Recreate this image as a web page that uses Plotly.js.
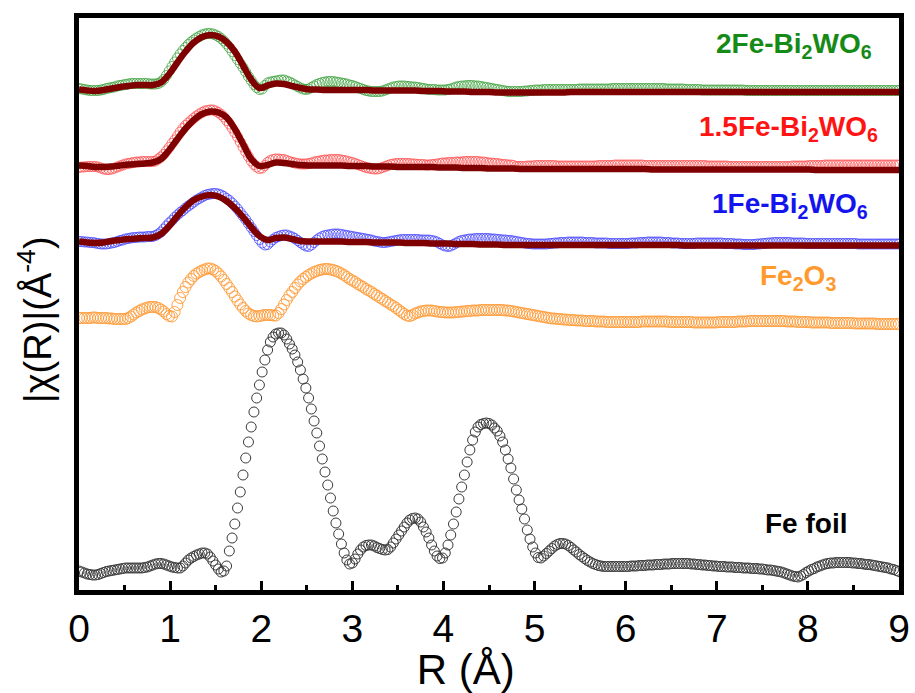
<!DOCTYPE html>
<html><head><meta charset="utf-8">
<script src="https://cdn.plot.ly/plotly-3.0.1.min.js"></script>
<style>html,body{margin:0;padding:0;background:#fff}#chart{width:915px;height:693px}</style>
</head><body><div id="chart"></div>
<script>
// R grid (Å): data points every 0.03 Å, fit curves every 0.09 Å, both from 0 to 9
const R_START = 0, R_STEP = 0.03, FIT_STEP = 0.09;
const xTicks = [0,1,2,3,4,5,6,7,8,9];
const seriesNames = ['Fe foil', 'Fe2O3', '1Fe-Bi2WO6', '1.5Fe-Bi2WO6', '2Fe-Bi2WO6'];

// |chi(R)| (arbitrary units, vertically stacked as drawn)
const feFoil = [
5.2,5.0,4.8,4.6,4.5,4.4,4.4,4.5,4.7,4.9,
5.1,5.2,5.3,5.4,5.5,5.6,5.7,5.8,5.8,5.8,
5.8,5.8,5.8,5.8,5.9,6.0,6.2,6.4,6.6,6.7,
6.7,6.6,6.4,6.2,6.0,5.9,5.8,5.8,6.2,6.8,
7.4,7.8,8.1,8.4,8.6,8.8,8.8,8.6,8.0,7.2,
6.4,5.6,5.0,5.2,6.2,9.2,11.8,14.6,17.8,21.0,
24.4,27.8,31.0,34.0,37.0,39.8,42.4,45.0,47.4,49.4,
51.0,52.0,52.6,52.8,52.8,52.4,51.6,50.6,49.6,48.4,
47.0,45.4,43.6,41.8,39.8,37.6,35.2,32.8,30.2,27.6,
25.0,22.4,19.8,17.2,14.8,12.6,10.6,8.8,7.4,6.6,
6.8,7.6,8.6,9.4,10.0,10.3,10.4,10.4,10.2,9.9,
9.7,9.5,9.4,9.5,10.0,10.8,11.6,12.4,13.2,14.0,
14.8,15.4,15.7,15.8,15.6,15.0,14.0,13.0,11.8,10.4,
9.2,8.2,7.7,7.8,8.8,10.4,12.4,14.6,17.0,19.6,
22.0,24.4,27.0,29.4,31.4,33.0,34.0,34.5,34.7,34.8,
34.7,34.4,33.8,33.2,32.2,31.0,29.4,27.6,25.8,23.6,
21.4,19.4,17.6,15.6,13.4,11.6,10.0,8.8,7.9,7.8,
8.2,8.7,9.2,9.7,10.2,10.5,10.7,10.7,10.6,10.3,
9.9,9.4,9.0,8.5,8.1,7.7,7.3,7.0,6.7,6.5,
6.3,6.2,6.1,6.1,6.1,6.1,6.1,6.1,6.1,6.1,
6.1,6.1,6.2,6.2,6.2,6.3,6.3,6.3,6.4,6.4,
6.4,6.5,6.5,6.5,6.6,6.6,6.6,6.7,6.7,6.7,
6.7,6.7,6.7,6.7,6.6,6.6,6.5,6.5,6.4,6.4,
6.3,6.3,6.2,6.2,6.1,6.1,6.1,6.0,6.0,6.0,
5.9,5.9,5.9,5.8,5.8,5.8,5.7,5.7,5.7,5.6,
5.6,5.5,5.4,5.4,5.3,5.2,5.1,5.0,4.8,4.6,
4.4,4.2,4.1,4.0,4.2,4.5,4.9,5.2,5.5,5.7,
6.0,6.2,6.4,6.6,6.7,6.8,6.8,6.9,6.9,6.9,
6.9,6.9,6.9,6.8,6.8,6.7,6.7,6.6,6.5,6.5,
6.4,6.3,6.2,6.1,6.0,5.9,5.8,5.6,5.5,5.3,
5.1];

const fe2o3 = [
55.8,55.8,55.8,55.8,55.8,55.9,55.9,55.8,55.8,55.8,
55.8,55.7,55.7,55.6,55.6,55.6,55.6,55.6,55.8,56.1,
56.5,56.9,57.2,57.5,57.7,57.9,58.0,58.0,58.0,57.8,
57.5,57.1,56.6,56.2,56.1,57.0,58.4,59.8,61.0,62.0,
62.9,63.6,64.2,64.7,65.0,65.3,65.5,65.7,65.7,65.5,
65.2,64.7,64.1,63.4,62.6,61.8,61.0,60.1,59.3,58.5,
57.8,57.2,56.7,56.4,56.2,56.1,56.2,56.3,56.4,56.4,
56.4,56.3,56.3,56.8,57.6,58.5,59.4,60.3,61.0,61.8,
62.5,63.1,63.6,64.0,64.4,64.7,65.0,65.2,65.4,65.5,
65.6,65.6,65.5,65.4,65.2,65.0,64.7,64.4,64.0,63.6,
63.3,63.0,62.6,62.3,62.0,61.6,61.3,61.0,60.6,60.3,
59.9,59.6,59.2,58.9,58.5,58.2,57.8,57.4,57.0,56.6,
56.3,56.2,56.4,56.7,56.9,57.1,57.2,57.3,57.3,57.3,
57.2,57.1,57.0,57.0,56.9,56.9,56.9,56.9,57.0,57.0,
57.1,57.1,57.2,57.2,57.3,57.3,57.3,57.4,57.4,57.4,
57.4,57.4,57.4,57.4,57.4,57.4,57.3,57.3,57.2,57.1,
57.0,56.9,56.8,56.7,56.6,56.5,56.4,56.3,56.2,56.1,
56.0,55.9,55.8,55.7,55.7,55.6,55.6,55.5,55.5,55.4,
55.4,55.4,55.3,55.3,55.3,55.2,55.2,55.2,55.2,55.1,
55.1,55.1,55.1,55.0,55.0,55.0,55.0,55.0,55.0,55.0,
55.0,55.0,55.0,55.0,55.0,55.0,55.1,55.1,55.1,55.1,
55.1,55.1,55.1,55.1,55.1,55.1,55.0,55.0,55.0,55.0,
55.0,55.0,55.0,55.0,55.0,54.9,54.9,54.9,54.9,54.9,
54.9,54.9,54.9,54.9,55.0,55.0,55.0,55.0,55.0,55.0,
55.0,55.1,55.1,55.1,55.1,55.2,55.2,55.2,55.2,55.2,
55.2,55.2,55.2,55.2,55.2,55.2,55.2,55.2,55.2,55.1,
55.1,55.1,55.1,55.0,55.0,55.0,55.0,55.0,54.9,54.9,
54.9,54.9,54.9,54.9,54.9,54.8,54.8,54.8,54.8,54.8,
54.8,54.8,54.8,54.8,54.7,54.7,54.7,54.7,54.7,54.7,
54.7,54.7,54.6,54.6,54.6,54.6,54.6,54.6,54.6,54.6,
54.6];

const fe1 = [
71.1,71.1,71.0,71.0,70.9,70.9,70.8,70.7,70.6,70.6,
70.6,70.7,70.8,70.9,71.1,71.3,71.4,71.6,71.7,71.8,
71.9,71.9,72.0,72.0,72.0,72.1,72.1,72.1,72.3,72.6,
73.0,73.6,74.2,74.8,75.3,75.9,76.4,76.9,77.3,77.8,
78.2,78.6,79.0,79.4,79.7,80.0,80.3,80.5,80.6,80.7,
80.7,80.6,80.4,80.1,79.7,79.3,78.8,78.2,77.6,76.9,
76.2,75.5,74.7,73.9,73.1,72.3,71.5,70.8,70.4,70.5,
71.0,71.5,71.9,72.1,72.3,72.4,72.4,72.2,72.0,71.7,
71.3,70.9,70.5,70.2,70.1,70.4,70.9,71.4,71.8,72.1,
72.3,72.4,72.5,72.6,72.6,72.6,72.5,72.4,72.3,72.2,
72.1,72.0,71.9,71.8,71.7,71.6,71.5,71.4,71.2,71.1,
71.0,70.9,70.9,71.0,71.1,71.2,71.3,71.4,71.5,71.5,
71.5,71.5,71.5,71.5,71.5,71.4,71.4,71.4,71.4,71.3,
71.2,71.0,70.7,70.4,70.2,70.1,70.2,70.5,70.8,71.1,
71.3,71.4,71.5,71.6,71.6,71.7,71.7,71.7,71.7,71.7,
71.7,71.6,71.6,71.5,71.5,71.4,71.4,71.3,71.3,71.2,
71.1,71.0,70.9,70.8,70.7,70.7,70.6,70.6,70.6,70.6,
70.6,70.6,70.7,70.7,70.8,70.8,70.9,70.9,70.9,71.0,
71.0,71.0,71.0,71.0,71.0,70.9,70.9,70.9,70.9,70.8,
70.8,70.8,70.8,70.8,70.7,70.7,70.7,70.7,70.7,70.7,
70.7,70.7,70.8,70.8,70.8,70.9,70.9,70.9,71.0,71.0,
71.0,71.0,71.0,71.0,70.9,70.9,70.9,70.8,70.8,70.8,
70.7,70.7,70.7,70.7,70.7,70.7,70.8,70.8,70.8,70.8,
70.8,70.8,70.8,70.8,70.8,70.8,70.7,70.7,70.7,70.7,
70.6,70.6,70.6,70.5,70.5,70.5,70.5,70.5,70.6,70.6,
70.7,70.7,70.8,70.8,70.9,70.9,70.9,70.9,70.9,70.9,
70.9,70.8,70.8,70.8,70.8,70.8,70.7,70.7,70.7,70.7,
70.7,70.7,70.7,70.7,70.7,70.7,70.7,70.7,70.7,70.7,
70.7,70.7,70.7,70.7,70.7,70.6,70.6,70.6,70.6,70.6,
70.6,70.6,70.6,70.6,70.6,70.6,70.6,70.6,70.6,70.6,
70.6];

const fe15 = [
85.9,86.0,86.0,86.1,86.1,86.1,86.1,86.0,85.8,85.6,
85.5,85.5,85.6,85.8,86.0,86.2,86.4,86.6,86.7,86.8,
86.9,87.0,87.0,87.1,87.1,87.1,87.1,87.1,87.2,87.6,
88.0,88.5,89.2,89.9,90.7,91.4,92.2,93.0,93.7,94.3,
94.8,95.3,95.8,96.2,96.6,96.9,97.2,97.3,97.4,97.4,
97.2,96.9,96.5,96.0,95.3,94.6,93.8,92.9,92.0,91.0,
90.0,89.0,88.1,87.2,86.5,86.0,85.7,85.8,86.3,86.9,
87.3,87.5,87.6,87.6,87.5,87.5,87.3,87.1,86.9,86.8,
86.7,86.6,86.6,86.6,86.7,86.8,87.0,87.1,87.2,87.3,
87.4,87.4,87.5,87.5,87.5,87.5,87.4,87.3,87.2,87.0,
86.9,86.7,86.5,86.3,86.1,85.9,85.8,85.7,85.6,85.6,
85.7,85.9,86.1,86.3,86.5,86.6,86.7,86.7,86.7,86.7,
86.7,86.7,86.6,86.6,86.5,86.5,86.5,86.4,86.4,86.5,
86.5,86.6,86.7,86.8,86.8,86.9,86.9,86.9,87.0,87.0,
87.0,87.1,87.1,87.1,87.1,87.1,87.1,87.0,87.0,86.9,
86.8,86.8,86.7,86.7,86.6,86.5,86.5,86.4,86.4,86.3,
86.1,86.1,86.1,86.1,86.2,86.2,86.2,86.3,86.3,86.3,
86.3,86.3,86.3,86.3,86.3,86.2,86.2,86.2,86.2,86.2,
86.2,86.2,86.2,86.2,86.2,86.2,86.2,86.2,86.2,86.2,
86.3,86.3,86.3,86.3,86.3,86.3,86.4,86.4,86.4,86.4,
86.4,86.4,86.4,86.4,86.4,86.4,86.4,86.3,86.3,86.3,
86.3,86.3,86.3,86.3,86.3,86.3,86.3,86.3,86.3,86.3,
86.3,86.3,86.3,86.3,86.3,86.3,86.3,86.3,86.3,86.3,
86.2,86.2,86.2,86.2,86.2,86.2,86.2,86.2,86.1,86.1,
86.1,86.1,86.1,86.1,86.1,86.1,86.1,86.1,86.1,86.1,
86.1,86.1,86.1,86.1,86.1,86.1,86.1,86.1,86.1,86.1,
86.1,86.2,86.2,86.2,86.2,86.2,86.2,86.3,86.3,86.3,
86.3,86.3,86.3,86.4,86.4,86.4,86.4,86.4,86.4,86.4,
86.4,86.4,86.4,86.4,86.4,86.4,86.4,86.4,86.4,86.4,
86.4,86.4,86.4,86.4,86.4,86.4,86.4,86.4,86.4,86.4,
86.4];

const fe2 = [
101.7,101.6,101.5,101.4,101.3,101.3,101.3,101.3,101.4,101.5,
101.7,101.8,101.9,102.0,102.2,102.3,102.4,102.5,102.6,102.7,
102.7,102.7,102.7,102.7,102.7,102.7,102.6,102.6,102.6,102.7,
103.0,103.5,104.3,105.2,106.1,107.0,107.8,108.6,109.3,109.9,
110.5,111.0,111.4,111.8,112.1,112.4,112.6,112.7,112.7,112.6,
112.4,112.1,111.7,111.2,110.6,109.9,109.1,108.3,107.5,106.7,
105.9,105.0,104.1,103.3,102.5,101.9,101.5,101.6,102.3,102.8,
103.0,103.1,103.2,103.3,103.4,103.4,103.2,103.0,102.7,102.4,
102.1,101.8,101.6,101.5,101.6,101.9,102.2,102.5,102.7,102.9,
103.0,103.1,103.1,103.1,103.0,102.9,102.8,102.7,102.6,102.4,
102.3,102.1,101.9,101.7,101.5,101.3,101.2,101.1,101.1,101.1,
101.1,101.2,101.4,101.6,101.8,102.0,102.1,102.2,102.2,102.2,
102.1,102.1,102.0,102.0,101.9,101.8,101.7,101.6,101.5,101.5,
101.5,101.4,101.4,101.4,101.4,101.5,101.6,101.8,102.0,102.1,
102.2,102.2,102.3,102.3,102.3,102.2,102.2,102.1,102.0,101.9,
101.8,101.7,101.6,101.5,101.4,101.3,101.2,101.1,101.1,101.1,
101.1,101.1,101.1,101.2,101.2,101.3,101.3,101.4,101.4,101.4,
101.5,101.5,101.5,101.5,101.5,101.5,101.5,101.5,101.5,101.5,
101.5,101.5,101.5,101.6,101.6,101.6,101.6,101.6,101.6,101.6,
101.6,101.6,101.6,101.6,101.6,101.7,101.7,101.7,101.7,101.7,
101.7,101.7,101.7,101.7,101.7,101.7,101.7,101.7,101.7,101.7,
101.7,101.7,101.7,101.7,101.7,101.6,101.6,101.6,101.6,101.6,
101.6,101.6,101.5,101.5,101.5,101.5,101.5,101.5,101.4,101.4,
101.4,101.4,101.4,101.4,101.4,101.4,101.4,101.4,101.4,101.4,
101.4,101.4,101.4,101.4,101.3,101.3,101.3,101.3,101.3,101.3,
101.3,101.3,101.3,101.3,101.3,101.3,101.3,101.3,101.3,101.3,
101.3,101.3,101.3,101.3,101.3,101.3,101.3,101.3,101.3,101.3,
101.3,101.3,101.3,101.3,101.3,101.3,101.3,101.3,101.3,101.3,
101.3,101.3,101.3,101.3,101.3,101.3,101.3,101.3,101.3,101.3,
101.3,101.3,101.3,101.3,101.3,101.3,101.3,101.3,101.3,101.3,
101.3];

// Fit curves (every 0.09 Å)
const fe1Fit = [
71.1,70.9,70.8,70.9,71.2,71.4,71.6,71.7,71.8,71.9,
72.6,74.2,76.2,78.0,79.4,80.1,80.4,80.1,79.2,77.8,
76.0,74.0,72.2,71.4,71.8,71.9,71.6,71.2,71.1,71.1,
71.1,71.1,71.1,71.0,71.0,71.0,70.9,70.9,70.9,70.9,
70.8,70.8,70.8,70.7,70.7,70.7,70.6,70.6,70.6,70.5,
70.5,70.5,70.4,70.4,70.4,70.4,70.4,70.4,70.4,70.4,
70.4,70.4,70.4,70.4,70.4,70.4,70.4,70.4,70.4,70.4,
70.4,70.4,70.4,70.4,70.3,70.3,70.3,70.3,70.3,70.3,
70.3,70.3,70.3,70.3,70.3,70.3,70.3,70.3,70.3,70.3,
70.3,70.3,70.3,70.3,70.3,70.3,70.3,70.3,70.3,70.3,
70.3];

const fe15Fit = [
86.3,86.2,86.0,86.0,86.1,86.3,86.5,86.6,86.7,86.9,
87.6,89.4,91.6,93.7,95.4,96.6,97.1,96.9,95.9,93.6,
90.6,87.6,86.2,86.4,86.9,86.8,86.6,86.4,86.3,86.3,
86.3,86.3,86.3,86.2,86.2,86.2,86.1,86.1,86.1,86.0,
86.0,86.0,86.0,86.0,85.9,85.9,85.9,85.8,85.8,85.8,
85.7,85.7,85.7,85.7,85.6,85.6,85.6,85.6,85.6,85.6,
85.6,85.6,85.6,85.6,85.6,85.6,85.6,85.6,85.6,85.6,
85.5,85.5,85.5,85.5,85.5,85.5,85.5,85.5,85.5,85.5,
85.5,85.5,85.5,85.5,85.5,85.5,85.5,85.5,85.5,85.5,
85.4,85.4,85.4,85.4,85.4,85.4,85.4,85.4,85.4,85.4,
85.4];

const fe2Fit = [
101.5,101.3,101.2,101.4,101.7,102.0,102.2,102.4,102.4,102.4,
102.9,104.6,106.9,109.1,110.9,112.0,112.4,112.1,111.0,109.1,
106.3,103.5,101.8,102.3,102.7,102.6,102.2,101.8,101.5,101.5,
101.4,101.4,101.4,101.4,101.4,101.4,101.3,101.3,101.3,101.3,
101.3,101.3,101.2,101.2,101.2,101.1,101.1,101.1,101.0,101.0,
101.0,100.9,100.9,100.9,100.9,100.9,100.9,100.9,100.9,100.9,
101.0,101.0,101.0,101.0,101.0,101.0,101.0,101.0,101.0,101.0,
101.0,101.0,101.0,101.0,101.0,101.0,101.0,101.0,101.0,101.0,
101.0,101.0,101.0,101.0,101.0,101.0,101.0,101.0,101.0,101.0,
101.0,101.0,101.0,101.0,101.0,101.0,101.0,101.0,101.0,101.0,
101.0];

const dataColors = ['#3a3a3a', '#ff9933', '#3535ff', '#ff4040', '#2e9a2e'];
const labelColors = ['#000000', '#ff9a2e', '#1414ee', '#ff1414', '#168a16'];
const FIT_COLOR = '#7f0000';

function dataTrace(y, i, size, lw) {
  return {type:'scatter', mode:'markers', name:seriesNames[i], x0:R_START, dx:R_STEP, y:y,
    marker:{symbol:'circle-open', size:size, color:dataColors[i], line:{width:lw}}, hoverinfo:'skip'};
}
function fitTrace(y, name) {
  return {type:'scatter', mode:'lines', name:name + ' fit', x0:R_START, dx:FIT_STEP, y:y,
    line:{color:FIT_COLOR, width:6.5, shape:'spline', smoothing:1}, hoverinfo:'skip'};
}

const traces = [
  dataTrace(feFoil, 0, 10, 1),
  dataTrace(fe2o3, 1, 11, 0.9),
  dataTrace(fe1, 2, 10, 0.7),
  fitTrace(fe1Fit, seriesNames[2]),
  dataTrace(fe15, 3, 10, 0.7),
  fitTrace(fe15Fit, seriesNames[3]),
  dataTrace(fe2, 4, 10, 0.7),
  fitTrace(fe2Fit, seriesNames[4])
];

const NARROW = '"Liberation Sans Narrow", "Arial Narrow", "Liberation Sans", Arial, sans-serif';
const BOLD = '"Liberation Sans", Arial, sans-serif';
const labelText = ['Fe foil', 'Fe<sub>2</sub>O<sub>3</sub>', '1Fe-Bi<sub>2</sub>WO<sub>6</sub>',
                   '1.5Fe-Bi<sub>2</sub>WO<sub>6</sub>', '2Fe-Bi<sub>2</sub>WO<sub>6</sub>'];
const labelPos = [[7.98, 14.8], [7.89, 64.0], [7.80, 78.4], [7.79, 93.8], [7.85, 110.3]];

const layout = {
  width:915, height:693,
  margin:{l:79, r:16, t:18, b:103},
  paper_bgcolor:'#ffffff', plot_bgcolor:'#ffffff',
  showlegend:false,
  font:{family:BOLD, color:'#000'},
  xaxis:{
    range:[0, 9], tickmode:'array', tickvals:xTicks, ticktext:xTicks.map(String),
    ticks:'inside', ticklen:9, tickwidth:3, tickcolor:'#000',
    minor:{ticks:'inside', dtick:0.5, tick0:0, ticklen:5, tickwidth:3, tickcolor:'#000'},
    showline:true, linewidth:5, linecolor:'#000', mirror:true,
    showgrid:false, zeroline:false,
    tickfont:{family:NARROW, size:39, color:'#000'},
    title:{text:'R (Å)&nbsp;&nbsp;&nbsp;&nbsp;', font:{family:NARROW, size:42, color:'#000'}, standoff:4}
  },
  yaxis:{
    range:[1.4, 115.8], showticklabels:false, ticks:'',
    showline:true, linewidth:5, linecolor:'#000', mirror:true,
    showgrid:false, zeroline:false,
    title:{text:'|χ(R)|(Å<sup>-4</sup>)&nbsp;&nbsp;&nbsp;', font:{family:NARROW, size:38, color:'#000'}, standoff:12}
  },
  annotations: labelText.map((t, i) => ({
    text:'<b>' + t + '</b>', x:labelPos[i][0], y:labelPos[i][1], xref:'x', yref:'y',
    xanchor:'center', yanchor:'middle', showarrow:false,
    font:{family:BOLD, size:28, color:labelColors[i]}
  }))
};

Plotly.newPlot('chart', traces, layout, {displayModeBar:false, staticPlot:true});
</script>
</body></html>
